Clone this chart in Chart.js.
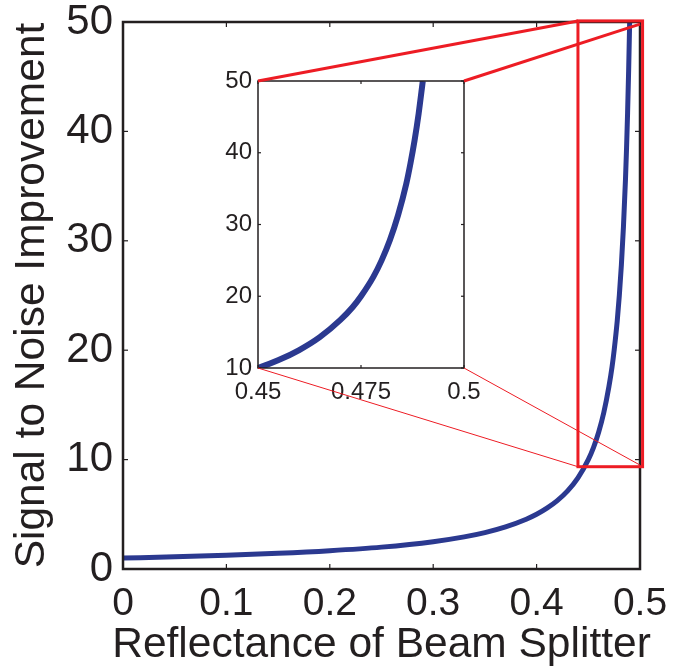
<!DOCTYPE html>
<html>
<head>
<meta charset="utf-8">
<script src="https://cdn.jsdelivr.net/npm/chart.js@4.4.1/dist/chart.umd.min.js"></script>
<style>
  html, body { margin: 0; padding: 0; background: #fff; }
  #wrap { position: relative; width: 673px; height: 667px; }
  #wrap canvas { position: absolute; left: 0; top: 0; }
</style>
</head>
<body>
<div id="wrap">
  <canvas id="main" width="673" height="667"></canvas>
  <canvas id="inset" width="673" height="667"></canvas>
</div>
<script>
// values
const reflectance = [0, 0.05, 0.1, 0.15, 0.2, 0.25, 0.3, 0.33, 0.35, 0.37, 0.39, 0.4, 0.41, 0.42, 0.43, 0.44,
  0.45, 0.455, 0.46, 0.465, 0.47, 0.473, 0.475, 0.478, 0.48, 0.482, 0.484, 0.486, 0.487, 0.488, 0.489, 0.49];
const snrGain = [1, 1.11, 1.25, 1.43, 1.67, 2, 2.5, 2.94, 3.33, 3.85, 4.55, 5, 5.56, 6.25, 7.14, 8.33,
  10, 11.1, 12.5, 14.3, 16.7, 18.5, 20, 22.7, 25, 27.8, 31.3, 35.7, 38.5, 41.7, 45.5, 50];

const xTicks = [0, 0.1, 0.2, 0.3, 0.4, 0.5];
const xTickLabels = ["0", "0.1", "0.2", "0.3", "0.4", "0.5"];
const yTicks = [0, 10, 20, 30, 40, 50];
const yTickLabels = ["0", "10", "20", "30", "40", "50"];

const insetXTicks = [0.45, 0.475, 0.5];
const insetXTickLabels = ["0.45", "0.475", "0.5"];
const insetYTicks = [10, 20, 30, 40, 50];
const insetYTickLabels = ["10", "20", "30", "40", "50"];

const xTitle = "Reflectance of Beam Splitter";
const yTitle = "Signal to Noise Improvement";

// zoomed region (red box) and where the connector lines land, in data units
const zoomBoxX = [0.44, 0.5025];
const zoomBoxY = [9.35, 50.1];
const linkCorners = ["tl", "tr", "bl", "br"];
const linkX = [0.44, 0.5, 0.44, 0.5];
const linkY = [50.1, 49.8, 9.35, 9.5];

const ink = "#231F20";
const blue = "#2B3990";
const red = "#ED1C24";
const family = "'Liberation Sans', Arial, Helvetica, sans-serif";

const points = reflectance.map((r, i) => ({ x: r, y: snrGain[i] }));

function setTicks(values) {
  return scale => { scale.ticks = values.map(v => ({ value: v })); };
}

// fixed axis box size, and no extra room asked for label overhang
function fixSize(key, size) {
  return scale => {
    scale[key] = size;
    scale.paddingTop = 0;
    scale.paddingBottom = 0;
    scale.paddingLeft = 0;
    scale.paddingRight = 0;
  };
}

function line(ctx, x1, y1, x2, y2) {
  ctx.beginPath();
  ctx.moveTo(x1, y1);
  ctx.lineTo(x2, y2);
  ctx.stroke();
}

function drawFrame(chart, width, tickLen) {
  const { ctx, chartArea: a, scales: { x, y } } = chart;
  ctx.save();
  ctx.strokeStyle = ink;
  ctx.lineWidth = width;
  ctx.strokeRect(a.left, a.top, a.right - a.left, a.bottom - a.top);
  ctx.lineWidth = 1.2;
  x.ticks.forEach(t => {
    const px = x.getPixelForValue(t.value);
    line(ctx, px, a.bottom, px, a.bottom - tickLen);
    line(ctx, px, a.top, px, a.top + tickLen);
  });
  y.ticks.forEach(t => {
    const py = y.getPixelForValue(t.value);
    line(ctx, a.left, py, a.left + tickLen, py);
    line(ctx, a.right, py, a.right - tickLen, py);
  });
  ctx.restore();
}

const mainPlugin = {
  id: "mainPlugin",
  afterDraw(chart) {
    drawFrame(chart, 2.5, 5);
    const { ctx, chartArea: a, scales: { x, y } } = chart;
    const x0 = x.getPixelForValue(zoomBoxX[0]);
    const x1 = x.getPixelForValue(zoomBoxX[1]);
    const y0 = y.getPixelForValue(zoomBoxY[0]);
    const y1 = y.getPixelForValue(zoomBoxY[1]);
    ctx.save();
    ctx.strokeStyle = red;
    ctx.lineWidth = 3;
    ctx.strokeRect(x0, y1, x1 - x0, y0 - y1);

    // x title drawn here: the axis title gets squeezed to the axis width
    ctx.fillStyle = ink;
    ctx.font = "42.5px " + family;
    ctx.textAlign = "center";
    ctx.textBaseline = "alphabetic";
    ctx.fillText(xTitle, (a.left + a.right) / 2, 657);
    ctx.restore();
  }
};

const mainChart = new Chart(document.getElementById("main"), {
  type: "line",
  data: {
    datasets: [{
      data: points,
      borderColor: blue,
      borderWidth: 5,
      pointRadius: 0,
      cubicInterpolationMode: "monotone",
      fill: false
    }]
  },
  options: {
    responsive: false,
    animation: false,
    layout: { padding: { left: 0, top: 22, right: 33, bottom: 0 } },
    plugins: { legend: { display: false }, tooltip: { enabled: false } },
    scales: {
      x: {
        type: "linear",
        min: 0,
        max: 0.5,
        afterBuildTicks: setTicks(xTicks),
        afterFit: fixSize("height", 98),
        grid: { display: false, drawTicks: false },
        border: { display: false },
        ticks: {
          padding: 12,
          color: ink,
          font: { family: family, size: 39 },
          maxRotation: 0,
          callback: (v, i) => xTickLabels[i]
        }
      },
      y: {
        min: 0,
        max: 50,
        afterBuildTicks: setTicks(yTicks),
        afterFit: fixSize("width", 123),
        grid: { display: false, drawTicks: false },
        border: { display: false },
        ticks: {
          padding: 10,
          color: ink,
          font: { family: family, size: 42 },
          callback: (v, i) => yTickLabels[i]
        },
        title: {
          display: true,
          text: yTitle,
          color: ink,
          padding: { top: 9, bottom: 0 },
          font: { family: family, size: 42.5, lineHeight: 1.1 }
        }
      }
    }
  },
  plugins: [mainPlugin]
});

const insetPlugin = {
  id: "insetPlugin",
  beforeDraw(chart) {
    const { ctx, chartArea: a } = chart;
    ctx.save();
    ctx.fillStyle = "#fff";
    ctx.fillRect(a.left, a.top, a.right - a.left, a.bottom - a.top);
    ctx.restore();
  },
  afterDraw(chart) {
    drawFrame(chart, 1.5, 3);
    const { ctx, chartArea: a } = chart;
    const mx = mainChart.scales.x;
    const my = mainChart.scales.y;
    const corners = {
      tl: [a.left, a.top], tr: [a.right, a.top],
      bl: [a.left, a.bottom], br: [a.right, a.bottom]
    };
    ctx.save();
    ctx.strokeStyle = red;
    linkCorners.forEach((c, i) => {
      ctx.lineWidth = c[0] === "t" ? 3 : 1;
      const [cx, cy] = corners[c];
      line(ctx, cx, cy, mx.getPixelForValue(linkX[i]), my.getPixelForValue(linkY[i]));
    });
    ctx.restore();
  }
};

new Chart(document.getElementById("inset"), {
  type: "line",
  data: {
    datasets: [{
      data: points,
      borderColor: blue,
      borderWidth: 6,
      pointRadius: 0,
      cubicInterpolationMode: "monotone",
      fill: false
    }]
  },
  options: {
    responsive: false,
    animation: false,
    layout: { padding: { left: 218, top: 81, right: 209, bottom: 259 } },
    plugins: { legend: { display: false }, tooltip: { enabled: false } },
    scales: {
      x: {
        type: "linear",
        min: 0.45,
        max: 0.5,
        afterBuildTicks: setTicks(insetXTicks),
        afterFit: fixSize("height", 40),
        grid: { display: false, drawTicks: false },
        border: { display: false },
        ticks: {
          padding: 10,
          color: ink,
          font: { family: family, size: 24 },
          maxRotation: 0,
          callback: (v, i) => insetXTickLabels[i]
        }
      },
      y: {
        min: 10,
        max: 50,
        afterBuildTicks: setTicks(insetYTicks),
        afterFit: fixSize("width", 40),
        grid: { display: false, drawTicks: false },
        border: { display: false },
        ticks: {
          padding: 6,
          color: ink,
          font: { family: family, size: 24 },
          callback: (v, i) => insetYTickLabels[i]
        }
      }
    }
  },
  plugins: [insetPlugin]
});
</script>
</body>
</html>
